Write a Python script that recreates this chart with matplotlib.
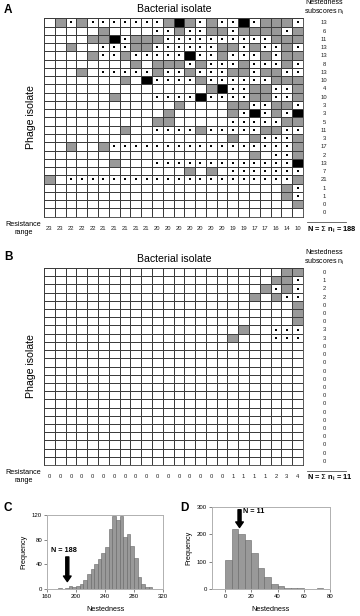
import matplotlib
matplotlib.use("Agg")
import matplotlib.pyplot as plt
import numpy as np
from matplotlib.colors import ListedColormap

plt.rcParams['font.family'] = ['Liberation Sans', 'DejaVu Sans']

# cell codes: "." white, "o" white with dot, "g" grey, "b" black
matrix_a = [
    ".gog oooo ooog bgog oobo gggo",
    ".... .g.. ..oo goog gogg ggog",
    ".... ggbo gggo oooo oooo oggg",
    "..g. .ooo ggoo oooo ggog oogo",
    ".... goog oooo oboo gooo gogg",
    ".... .... g.gg gogo oogo oogo",
    "...g .ooo oogo ogoo oggo ggoo",
    ".... ...g .boo oogo oooo oggg",
    ".... .... .... ...g boog goog",
    ".... ..g. ..oo oobo ooog goog",
    ".... .... .... g... .ggo oggo",
    ".... .... ...g .... .gob ogob",
    ".... .... ..gg .... .ooo oogg",
    ".... ...g ..oo oogo oooo ggoo",
    ".... .... .... .... .g.g ooog",
    "..g. .goo oooo oooo oooo ooog",
    ".... .... .... .... ...g .oog",
    ".... ..g. ..oo oooo oooo ooob",
    ".... .... .... .g.g .ooo oooo",
    "g.oo oooo oooo oooo oooo ooog",
    ".... .... .... .... .... ..go",
    ".... .... .... .... .... ..go",
    ".... .... .... .... .... ...g",
    ".... .... .... .... .... ....",
]
subscores_a = [13, 6, 11, 13, 13, 8, 13, 10, 4, 10, 3, 3, 5, 11, 3, 17, 2, 13, 7, 21, 1, 1, 0, 0]
range_a = [23, 23, 22, 22, 22, 21, 21, 21, 21, 21, 20, 20,
           20, 20, 20, 20, 20, 19, 19, 17, 17, 16, 14, 10]

matrix_b = [
    ".... .... .... .... .... ..gg",
    ".... .... .... .... .... .ggo",
    ".... .... .... .... .... gogo",
    ".... .... .... .... ...g .goo",
    ".... .... .... .... .... ...g",
    ".... .... .... .... .... ...g",
    ".... .... .... .... .... ...g",
    ".... .... .... .... ..g. .ooo",
    ".... .... .... .... .g.. .ooo",
] + [".... .... .... .... .... ...."] * 15
subscores_b = [0, 1, 2, 2, 0, 0, 0, 3, 3] + [0] * 15
range_b = [0] * 17 + [1, 1, 1, 1, 2, 3, 4]

# null-model histograms (bin width 5)
bins_c = [175, 180, 185, 190, 195, 200, 205, 210, 215, 220, 225, 230, 235, 240,
          245, 250, 255, 260, 265, 270, 275, 280, 285, 290, 295, 300]
freq_c = [1, 0, 2, 5, 3, 5, 8, 15, 25, 32, 40, 48, 58, 68,
          98, 118, 112, 118, 85, 90, 70, 50, 20, 8, 3, 3]
bins_d = [0, 5, 10, 15, 20, 25, 30, 35, 40, 45, 50, 55, 60, 65, 70]
freq_d = [105, 220, 203, 178, 130, 78, 45, 18, 10, 3, 5, 3, 0, 0, 3]

W, H = 360, 616
fig = plt.figure(figsize=(W / 100, H / 100), dpi=100)


def px_axes(x0, y0, x1, y1):
    return fig.add_axes([x0 / W, 1 - y1 / H, (x1 - x0) / W, (y1 - y0) / H])


def draw_matrix(ax, rows, subs, ranges, total):
    grid = [r.replace(" ", "") for r in rows]
    code = {".": 0, "o": 0, "g": 1, "b": 2}
    vals = np.array([[code[c] for c in r] for r in grid])
    nr, nc = vals.shape
    cmap = ListedColormap(["white", "#999999", "black"])
    ax.pcolormesh(np.arange(nc + 1), np.arange(nr + 1), vals, cmap=cmap,
                  vmin=0, vmax=2, edgecolors="#3c3c3c", linewidth=0.6)
    dy, dx = np.where(np.array([[c == "o" for c in r] for r in grid]))
    ax.scatter(dx + 0.5, dy + 0.5, s=0.8, color="black", marker="s", lw=0)
    ax.set_xlim(0, nc)
    ax.set_ylim(nr, 0)
    ax.set_xticks([])
    ax.set_yticks([])
    for s in ax.spines.values():
        s.set_color("#3c3c3c")
        s.set_linewidth(0.6)
    for i, v in enumerate(subs):
        ax.text(25.95, i + 0.55, str(v), ha="center", va="center", fontsize=4.2,
                color="#222222", clip_on=False)
    for j, v in enumerate(ranges):
        ax.text(j + 0.5, 25.4, str(v), ha="center", va="center", fontsize=4.2,
                color="#222222", clip_on=False)
    ax.text(-1.9, 25.4, "Resistance\nrange", ha="center", va="center",
            fontsize=5.2, linespacing=1.1, clip_on=False)
    ax.plot([24.4, 28.0], [24.7, 24.7], color="#555555", lw=0.6, clip_on=False)
    ax.text(24.4, 25.55, r"N = $\Sigma$ n$_\mathregular{i}$ = %d" % total,
            ha="left", va="center", fontsize=5.4, fontweight="bold", clip_on=False)
    ax.text(26.0, -1.25, "Nestedness\nsubscores n$_\\mathregular{i}$", ha="center",
            va="center", fontsize=5.0, linespacing=1.15, clip_on=False)
    ax.text(12.1, -1.1, "Bacterial isolate", ha="center", va="center", fontsize=7.6,
            clip_on=False)
    ax.text(-1.2, nr / 2, "Phage isolate", ha="center", va="center", fontsize=7.6,
            rotation=90, clip_on=False)


ax_a = px_axes(44, 18.3, 303, 216.7)
draw_matrix(ax_a, matrix_a, subscores_a, range_a, sum(subscores_a))
ax_b = px_axes(44, 268, 303, 465)
draw_matrix(ax_b, matrix_b, subscores_b, range_b, sum(subscores_b))

fig.text(4 / W, 1 - 10 / H, "A", fontsize=8.5, fontweight="bold", va="center")
fig.text(4 / W, 1 - 257 / H, "B", fontsize=8.5, fontweight="bold", va="center")
fig.text(4 / W, 1 - 508 / H, "C", fontsize=8.5, fontweight="bold", va="center")
fig.text(180 / W, 1 - 508 / H, "D", fontsize=8.5, fontweight="bold", va="center")


def style_hist(ax):
    for s in ax.spines.values():
        s.set_color("#b0b0b0")
        s.set_linewidth(0.7)
    ax.tick_params(labelsize=4.3, length=2, width=0.5, color="#555555", pad=1.5)
    ax.set_ylabel("Frequency", fontsize=5.2, labelpad=3)
    ax.set_xlabel("Nestedness", fontsize=5.2, labelpad=5)


ax_c = px_axes(47, 515, 163, 589)
ax_c.bar(bins_c, freq_c, width=5, align="edge", color="#999999",
         edgecolor="#666666", linewidth=0.4)
ax_c.set_xlim(160, 320)
ax_c.set_ylim(0, 120)
ax_c.set_xticks([160, 200, 240, 280, 320])
ax_c.set_yticks([0, 40, 80, 120])
style_hist(ax_c)
ax_c.annotate("", xy=(188, 12), xytext=(188, 52),
              arrowprops=dict(facecolor="black", edgecolor="black", width=2.2,
                              headwidth=5.5, headlength=4))
ax_c.text(183, 62, "N = 188", ha="center", va="center", fontsize=5.2,
          fontweight="bold")

ax_d = px_axes(212, 507, 330, 589)
ax_d.bar(bins_d, freq_d, width=5, align="edge", color="#999999",
         edgecolor="#666666", linewidth=0.4)
ax_d.set_xlim(-10, 80)
ax_d.set_ylim(0, 300)
ax_d.set_xticks([0, 20, 40, 60, 80])
ax_d.set_yticks([0, 100, 200, 300])
style_hist(ax_d)
ax_d.annotate("", xy=(11, 225), xytext=(11, 290),
              arrowprops=dict(facecolor="black", edgecolor="black", width=2.2,
                              headwidth=5.5, headlength=4))
ax_d.text(14, 282, "N = 11", ha="left", va="center", fontsize=5.2,
          fontweight="bold")

fig.savefig("out.png", dpi=100)
